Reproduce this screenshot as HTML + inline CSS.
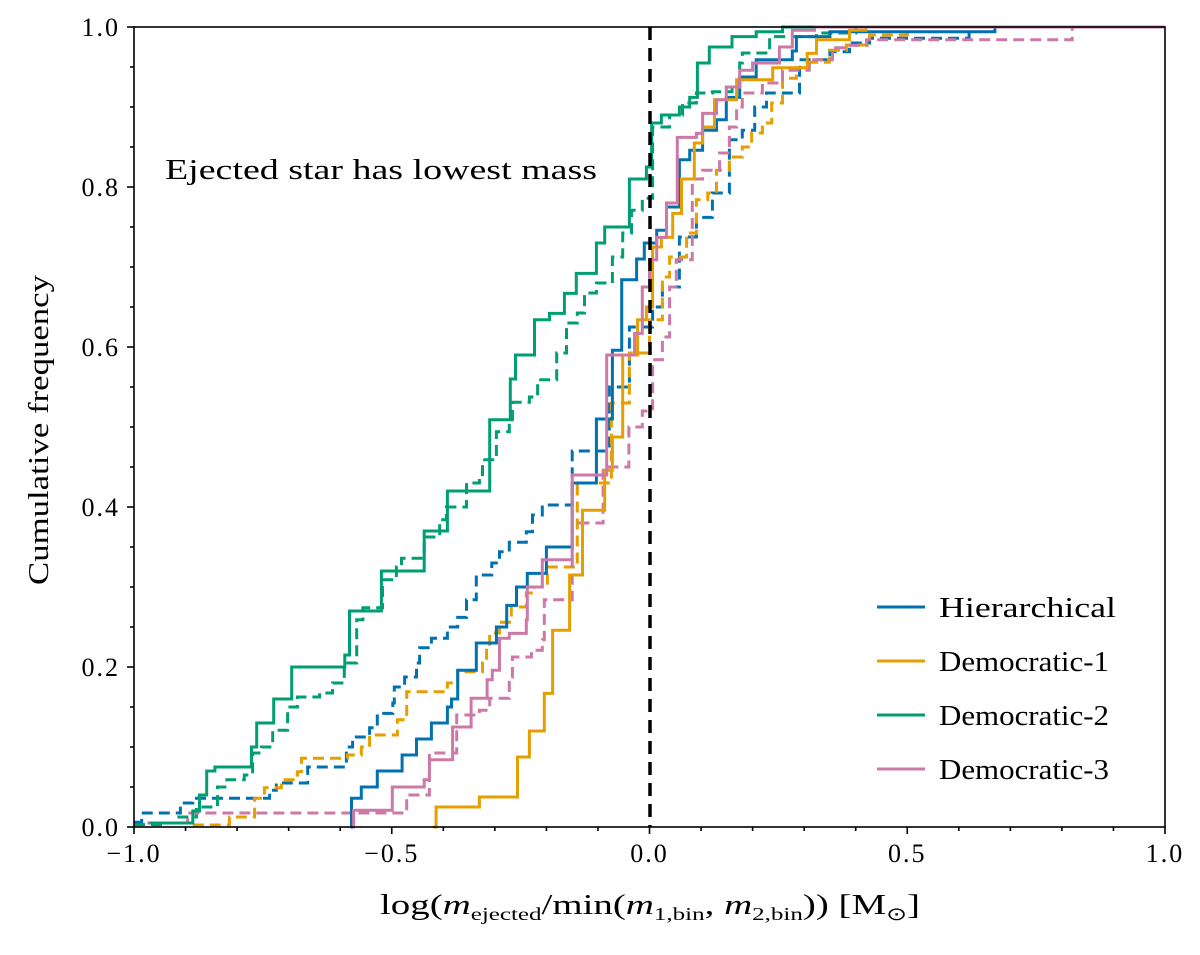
<!DOCTYPE html>
<html><head><meta charset="utf-8"><style>
body{margin:0;background:#fff}
svg text{font-family:"Liberation Serif",serif;fill:#000}
</style></head><body>
<svg id="chart" width="1200" height="950" viewBox="0 0 1200 950" xmlns="http://www.w3.org/2000/svg">
<rect width="1200" height="950" fill="#fff"/>
<g id="series"></g>
<line x1="650" y1="27" x2="650" y2="827" stroke="#000" stroke-width="3.5" stroke-dasharray="13,8"/>
<g id="axes"></g>
<rect x="134" y="27" width="1031" height="800" fill="none" stroke="#000" stroke-width="1.6"/>
<text x="165" y="179" font-size="28" textLength="432" lengthAdjust="spacingAndGlyphs">Ejected star has lowest mass</text>
<text transform="translate(48,430) rotate(-90)" text-anchor="middle" font-size="29" textLength="310" lengthAdjust="spacingAndGlyphs">Cumulative frequency</text>
<text x="380" y="914" font-size="28" textLength="540" lengthAdjust="spacingAndGlyphs">log(<tspan font-style="italic">m</tspan><tspan font-size="18" dy="6">ejected</tspan><tspan dy="-6">/min(</tspan><tspan font-style="italic">m</tspan><tspan font-size="18" dy="6">1,bin</tspan><tspan dy="-6">, </tspan><tspan font-style="italic">m</tspan><tspan font-size="18" dy="6">2,bin</tspan><tspan dy="-6">))  [M</tspan><tspan font-size="18" dy="6">⊙</tspan><tspan dy="-6">]</tspan></text>
<g id="legend"></g>
</svg>
<script>
const seriesNames = ["Hierarchical","Democratic-1","Democratic-2","Democratic-3"];
const seriesColors = ["#0072B2","#E69F00","#009E73","#CC79A7"];
const legendWidths = [177,170,170,170];
const xTicks = [-1.0,-0.5,0.0,0.5,1.0];
const xTickLabels = ["\u22121.0","\u22120.5","0.0","0.5","1.0"];
const yTicks = [0,0.2,0.4,0.6,0.8,1.0];
const yTickLabels = ["0.0","0.2","0.4","0.6","0.8","1.0"];

const hierSolid = [[-0.58,0.0],[-0.578,0.036],[-0.559,0.05],[-0.528,0.07],[-0.48,0.09],[-0.452,0.11],[-0.423,0.13],[-0.392,0.15],[-0.384,0.16],[-0.372,0.196],[-0.336,0.23],[-0.297,0.25],[-0.277,0.277],[-0.258,0.3],[-0.237,0.317],[-0.2,0.35],[-0.15,0.43],[-0.103,0.51],[-0.072,0.596],[-0.054,0.684],[-0.025,0.71],[-0.01,0.73],[0.014,0.746],[0.033,0.775],[0.058,0.834],[0.078,0.846],[0.103,0.871],[0.13,0.884],[0.149,0.912],[0.175,0.9375],[0.207,0.959],[0.277,0.97],[0.285,0.988],[0.35,0.994],[0.67,1.0]];
const hierDash = [[-1.0,0.006],[-0.985,0.0175],[-0.91,0.03],[-0.886,0.036],[-0.737,0.046],[-0.724,0.055],[-0.663,0.075],[-0.588,0.1],[-0.576,0.1125],[-0.543,0.124],[-0.528,0.142],[-0.498,0.155],[-0.495,0.175],[-0.475,0.1875],[-0.452,0.205],[-0.446,0.224],[-0.423,0.236],[-0.392,0.25],[-0.372,0.262],[-0.355,0.284],[-0.336,0.315],[-0.306,0.33],[-0.291,0.344],[-0.272,0.356],[-0.239,0.369],[-0.227,0.39],[-0.208,0.4025],[-0.15,0.47],[-0.078,0.55],[-0.039,0.625],[0.006,0.65],[0.025,0.675],[0.058,0.7375],[0.091,0.762],[0.122,0.7925],[0.155,0.859],[0.18,0.871],[0.204,0.9],[0.227,0.9175],[0.291,0.959],[0.35,0.969],[0.388,0.98],[0.427,0.986],[0.62,1.0]];
const dem1Solid = [[-0.42,0.0],[-0.414,0.025],[-0.33,0.0375],[-0.256,0.0875],[-0.233,0.12],[-0.204,0.167],[-0.188,0.246],[-0.155,0.315],[-0.13,0.396],[-0.087,0.446],[-0.072,0.4875],[-0.052,0.59],[-0.023,0.634],[-0.006,0.65],[0.006,0.725],[0.023,0.737],[0.045,0.767],[0.062,0.81],[0.087,0.855],[0.103,0.875],[0.126,0.909],[0.169,0.934],[0.239,0.949],[0.306,0.967],[0.324,0.984],[0.388,0.996],[0.42,1.0]];
const dem1Dash = [[-0.886,0.0025],[-0.815,0.0125],[-0.766,0.036],[-0.747,0.049],[-0.714,0.059],[-0.683,0.069],[-0.675,0.086],[-0.586,0.09],[-0.559,0.1],[-0.543,0.115],[-0.489,0.134],[-0.471,0.169],[-0.392,0.18],[-0.372,0.194],[-0.324,0.205],[-0.316,0.225],[-0.31,0.2425],[-0.291,0.256],[-0.268,0.275],[-0.239,0.2925],[-0.223,0.3],[-0.198,0.325],[-0.14,0.43],[-0.074,0.53],[-0.039,0.5925],[0.0,0.634],[0.025,0.6875],[0.039,0.7125],[0.072,0.7425],[0.091,0.784],[0.113,0.7925],[0.13,0.821],[0.155,0.8375],[0.18,0.85],[0.198,0.8675],[0.219,0.88],[0.237,0.905],[0.258,0.936],[0.285,0.949],[0.31,0.956],[0.349,0.971],[0.382,0.9775],[0.427,0.99],[0.5,1.0]];
const dem2Solid = [[-0.97,0.005],[-0.886,0.02],[-0.873,0.04],[-0.859,0.07],[-0.843,0.075],[-0.772,0.1],[-0.762,0.13],[-0.729,0.16],[-0.694,0.2],[-0.591,0.215],[-0.582,0.27],[-0.52,0.32],[-0.437,0.37],[-0.392,0.42],[-0.31,0.509],[-0.27,0.56],[-0.26,0.59],[-0.223,0.634],[-0.194,0.642],[-0.165,0.667],[-0.142,0.692],[-0.103,0.73],[-0.087,0.75],[-0.039,0.81],[-0.006,0.825],[0.004,0.88],[0.023,0.89],[0.058,0.9],[0.078,0.912],[0.093,0.955],[0.116,0.975],[0.16,0.988],[0.207,0.994],[0.258,1.0]];
const dem2Dash = [[-1.0,0.003],[-0.945,0.005],[-0.918,0.0125],[-0.879,0.025],[-0.838,0.05],[-0.82,0.059],[-0.786,0.065],[-0.77,0.0925],[-0.753,0.1],[-0.731,0.121],[-0.702,0.15],[-0.683,0.1625],[-0.64,0.1675],[-0.615,0.18],[-0.592,0.205],[-0.568,0.259],[-0.556,0.274],[-0.518,0.309],[-0.491,0.325],[-0.481,0.336],[-0.437,0.3625],[-0.407,0.384],[-0.394,0.4],[-0.355,0.43],[-0.33,0.4375],[-0.324,0.459],[-0.297,0.494],[-0.272,0.509],[-0.266,0.531],[-0.233,0.5375],[-0.217,0.559],[-0.18,0.5925],[-0.161,0.63],[-0.14,0.6425],[-0.126,0.6675],[-0.103,0.68],[-0.072,0.7125],[-0.052,0.7425],[-0.035,0.771],[-0.014,0.786],[0.006,0.875],[0.039,0.89],[0.064,0.905],[0.091,0.9175],[0.122,0.919],[0.16,0.925],[0.175,0.955],[0.18,0.9675],[0.233,0.988],[0.324,0.9925],[0.4,1.0]];
const dem3Solid = [[-0.576,0.0],[-0.574,0.021],[-0.499,0.05],[-0.437,0.059],[-0.427,0.084],[-0.382,0.125],[-0.346,0.161],[-0.315,0.184],[-0.305,0.196],[-0.291,0.236],[-0.272,0.242],[-0.239,0.259],[-0.237,0.3],[-0.208,0.334],[-0.15,0.44],[-0.083,0.59],[-0.029,0.617],[-0.014,0.675],[0.0,0.709],[0.014,0.737],[0.033,0.78],[0.054,0.862],[0.091,0.867],[0.103,0.892],[0.13,0.909],[0.149,0.925],[0.175,0.946],[0.2,0.955],[0.252,0.975],[0.277,0.996],[0.32,1.0]];
const dem3Dash = [[-0.974,0.005],[-0.896,0.0175],[-0.471,0.04],[-0.427,0.0925],[-0.374,0.14],[-0.33,0.146],[-0.31,0.161],[-0.272,0.1875],[-0.266,0.2125],[-0.229,0.221],[-0.208,0.234],[-0.204,0.284],[-0.15,0.38],[-0.09,0.45],[-0.04,0.5],[-0.014,0.52],[0.006,0.584],[0.025,0.6125],[0.039,0.675],[0.052,0.709],[0.083,0.81],[0.103,0.821],[0.136,0.8425],[0.155,0.875],[0.169,0.9],[0.18,0.9175],[0.219,0.93],[0.258,0.946],[0.31,0.959],[0.355,0.974],[0.38,0.977],[0.421,0.984],[0.82,1.0]];

const solidSeries = [hierSolid, dem1Solid, dem2Solid, dem3Solid];
const dashSeries = [hierDash, dem1Dash, dem2Dash, dem3Dash];

const X0=134, X1=1165, Y0=827, Y1=27;
const sx = v => X0 + (v + 1) / 2 * (X1 - X0);
const sy = v => Y0 - v * (Y0 - Y1);
const NS = "http://www.w3.org/2000/svg";
function mk(tag, parent){ const e=document.createElementNS(NS,tag); parent.appendChild(e); return e; }

const sg = document.getElementById('series');
function stepPath(pts){
  let d = "M"+sx(pts[0][0]).toFixed(1)+","+sy(pts[0][1]).toFixed(1);
  for(let i=1;i<pts.length;i++){ d += "H"+sx(pts[i][0]).toFixed(1)+"V"+sy(pts[i][1]).toFixed(1); }
  d += "H"+sx(1.0).toFixed(1);
  return d;
}
for(let k=0;k<4;k++){
  const p = mk('path', sg);
  
  
  p.setAttribute('d', stepPath(dashSeries[k]));
  p.setAttribute('fill','none'); p.setAttribute('stroke',seriesColors[k]);
  p.setAttribute('stroke-width','3'); p.setAttribute('stroke-dasharray','11,6');
}
for(let k=0;k<4;k++){
  const p = mk('path', sg);
  
  
  p.setAttribute('d', stepPath(solidSeries[k]));
  p.setAttribute('fill','none'); p.setAttribute('stroke',seriesColors[k]);
  p.setAttribute('stroke-width','3');
}

const ax = document.getElementById('axes');
for(let i=0;i<=20;i++){
  const v=-1+i*0.1, major = (i%5===0);
  const t = mk('line', ax);
  
  
  t.setAttribute('x1',sx(v)); t.setAttribute('x2',sx(v));
  t.setAttribute('y1',Y0); t.setAttribute('y2',Y0+(major?7:4));
  t.setAttribute('stroke','#000'); t.setAttribute('stroke-width','1.6');
}
for(let i=0;i<=20;i++){
  const v=i*0.05, major=(i%4===0);
  const t = mk('line', ax);
  
  
  t.setAttribute('y1',sy(v)); t.setAttribute('y2',sy(v));
  t.setAttribute('x1',X0); t.setAttribute('x2',X0-(major?7:4));
  t.setAttribute('stroke','#000'); t.setAttribute('stroke-width','1.6');
}
xTicks.forEach((v,i)=>{
  const t = mk('text', ax);
  
  
  t.setAttribute('x',sx(v)); t.setAttribute('y',Y0+35);
  t.setAttribute('text-anchor','middle'); t.setAttribute('font-size','26');
  t.setAttribute('letter-spacing','2');
  t.textContent = xTickLabels[i];
});
yTicks.forEach((v,i)=>{
  const t = mk('text', ax);
  
  
  t.setAttribute('x',X0-14); t.setAttribute('y',sy(v)+9);
  t.setAttribute('text-anchor','end'); t.setAttribute('font-size','26');
  t.setAttribute('letter-spacing','2');
  t.textContent = yTickLabels[i];
});

const lg = document.getElementById('legend');
seriesNames.forEach((n,i)=>{
  const y = 607 + i*54;
  const l = mk('line', lg);
  
  
  l.setAttribute('x1',877); l.setAttribute('x2',925); l.setAttribute('y1',y); l.setAttribute('y2',y);
  l.setAttribute('stroke',seriesColors[i]); l.setAttribute('stroke-width','3');
  const t = mk('text', lg);
  
  
  t.setAttribute('x',939); t.setAttribute('y',y+10); t.setAttribute('font-size','29');
  t.setAttribute('textLength', legendWidths[i]);
  t.setAttribute('lengthAdjust','spacingAndGlyphs');
  t.textContent = n;
});
</script>
</body></html>
